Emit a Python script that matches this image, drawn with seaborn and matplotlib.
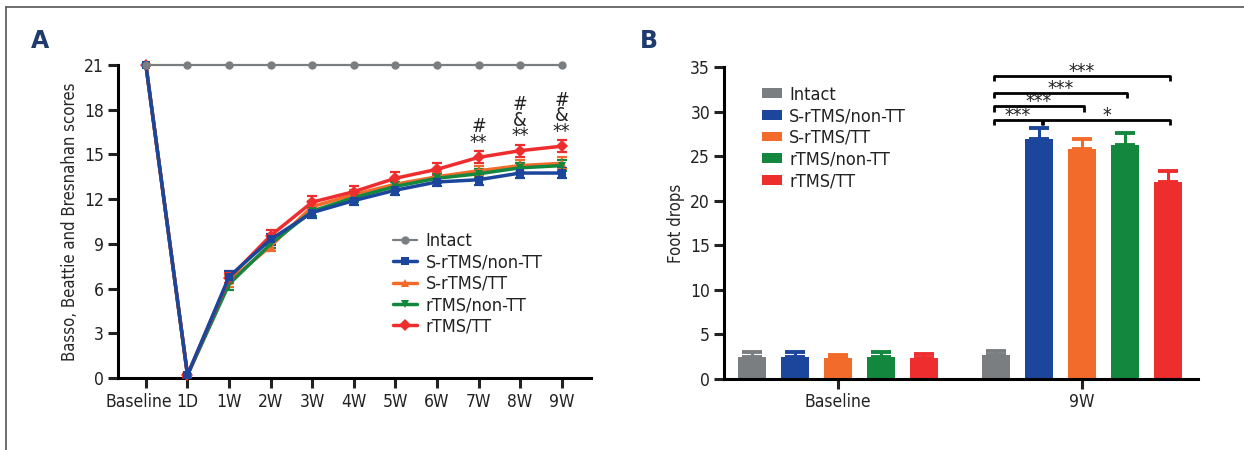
import numpy as np
import pandas as pd
import matplotlib
matplotlib.use("Agg")
import matplotlib.pyplot as plt
import matplotlib.transforms as mtransforms
import seaborn as sns
from matplotlib.lines import Line2D
from matplotlib import font_manager

# ---- data ----
timepoints = ["Baseline", "1D", "1W", "2W", "3W", "4W", "5W", "6W", "7W", "8W", "9W"]
groups = ["Intact", "S-rTMS/non-TT", "S-rTMS/TT", "rTMS/non-TT", "rTMS/TT"]
colors = ["#7b7e81", "#1b469c", "#f26b2a", "#14873f", "#ee2d2f"]
markers = ["o", "s", "^", "v", "D"]

# panel A: BBB scores (mean, SEM)
intact_bbb = [21, 21, 21, 21, 21, 21, 21, 21, 21, 21, 21]
srtms_nontt_bbb = [21, 0.2, 6.8, 9.3, 11.1, 11.9, 12.6, 13.15, 13.3, 13.75, 13.75]
srtms_tt_bbb = [21, 0.2, 6.5, 8.85, 11.5, 12.3, 13.0, 13.5, 13.9, 14.25, 14.4]
rtms_nontt_bbb = [21, 0.2, 6.3, 9.0, 11.2, 12.1, 12.85, 13.4, 13.7, 14.1, 14.25]
rtms_tt_bbb = [21, 0.2, 6.7, 9.55, 11.8, 12.5, 13.4, 14.0, 14.8, 15.25, 15.55]

intact_sem = [0, 0, 0, 0, 0, 0, 0, 0, 0, 0, 0]
srtms_nontt_sem = [0, 0.1, 0.4, 0.35, 0.35, 0.3, 0.3, 0.3, 0.35, 0.35, 0.35]
srtms_tt_sem = [0, 0.1, 0.4, 0.3, 0.35, 0.3, 0.35, 0.3, 0.35, 0.4, 0.4]
rtms_nontt_sem = [0, 0.1, 0.4, 0.3, 0.35, 0.3, 0.3, 0.3, 0.3, 0.35, 0.35]
rtms_tt_sem = [0, 0.1, 0.35, 0.35, 0.4, 0.4, 0.45, 0.4, 0.4, 0.4, 0.4]

sig_times = ["7W", "8W", "9W"]
sig_labels = ["#\n**", "#\n&\n**", "#\n&\n**"]

# panel B: foot drops (mean, SEM)
foot_times = ["Baseline", "9W"]
intact_foot = [2.5, 2.65]
srtms_nontt_foot = [2.5, 26.9]
srtms_tt_foot = [2.3, 25.8]
rtms_nontt_foot = [2.5, 26.25]
rtms_tt_foot = [2.4, 22.1]

intact_foot_sem = [0.5, 0.45]
srtms_nontt_foot_sem = [0.5, 1.3]
srtms_tt_foot_sem = [0.4, 1.1]
rtms_nontt_foot_sem = [0.5, 1.3]
rtms_tt_foot_sem = [0.4, 1.25]

comparisons = [("Intact", "S-rTMS/non-TT", "***"),
               ("Intact", "S-rTMS/TT", "***"),
               ("Intact", "rTMS/non-TT", "***"),
               ("Intact", "rTMS/TT", "***"),
               ("S-rTMS/non-TT", "rTMS/TT", "*")]
bracket_y = [29.05, 30.6, 32.1, 34.0, 29.05]

bbb_means = [intact_bbb, srtms_nontt_bbb, srtms_tt_bbb, rtms_nontt_bbb, rtms_tt_bbb]
bbb_sems = [intact_sem, srtms_nontt_sem, srtms_tt_sem, rtms_nontt_sem, rtms_tt_sem]
foot_means = [intact_foot, srtms_nontt_foot, srtms_tt_foot, rtms_nontt_foot, rtms_tt_foot]
foot_sems = [intact_foot_sem, srtms_nontt_foot_sem, srtms_tt_foot_sem,
             rtms_nontt_foot_sem, rtms_tt_foot_sem]

sns.set_style("white")

# use a condensed face when one is installed, otherwise shrink the text
fp = font_manager.FontProperties(family="DejaVu Sans", stretch="condensed")
cond_path = font_manager.findfont(fp, fallback_to_default=True)
condensed = "condensed" in cond_path.lower()
plt.rcParams['font.family'] = ['DejaVu Sans']
if condensed:
    plt.rcParams['font.stretch'] = 'condensed'
    fs_tick, fs_leg, fs_lab = 12.5, 13, 12
else:
    fs_tick, fs_leg, fs_lab = 10.5, 11.5, 11
plt.rcParams['text.color'] = '#222222'
plt.rcParams['xtick.color'] = '#222222'
plt.rcParams['ytick.color'] = '#222222'

fig = plt.figure(figsize=(12.44, 4.5), dpi=100)
ax_a = fig.add_axes([0.0949, 0.16, 0.380, 0.6956])
ax_b = fig.add_axes([0.582, 0.1578, 0.381, 0.6932])

# ---- panel A ----
x_idx = np.arange(len(timepoints))
df_a = pd.DataFrame({
    "t": np.tile(x_idx, len(groups)),
    "score": np.concatenate(bbb_means),
    "group": np.repeat(groups, len(timepoints)),
})
sns.lineplot(data=df_a, x="t", y="score", hue="group", style="group",
             hue_order=groups, style_order=groups, palette=colors,
             markers=markers, dashes=False, linewidth=2.5, markersize=6,
             markeredgewidth=0, errorbar=None, ax=ax_a, clip_on=False)

for i, line in enumerate(ax_a.lines[:len(groups)]):
    if i == 0:
        line.set_linewidth(1.6)
        line.set_zorder(6)
    elif i == 1:
        line.set_zorder(5)
    else:
        line.set_zorder(4)
    line.set_clip_on(False)

for i in range(1, len(groups)):
    ax_a.errorbar(x_idx, bbb_means[i], yerr=bbb_sems[i], fmt="none",
                  ecolor=colors[i], elinewidth=1.6, capsize=3.5, capthick=1.6,
                  zorder=3)

rtms_tt_series = pd.Series(rtms_tt_bbb, index=timepoints)
rtms_tt_err = pd.Series(rtms_tt_sem, index=timepoints)
for t, lab in zip(sig_times, sig_labels):
    xi = timepoints.index(t)
    ax_a.text(xi, rtms_tt_series[t] + rtms_tt_err[t] - 0.05, lab, ha="center",
              va="bottom", fontsize=14, linespacing=0.78)

ax_a.set_xlim(-0.67, 10.7)
ax_a.set_ylim(0, 21)
ax_a.set_yticks(np.arange(0, 22, 3))
ax_a.set_xticks(x_idx)
ax_a.set_xticklabels(timepoints)
ax_a.set_xlabel("")
ax_a.set_ylabel("Basso, Beattie and Bresnahan scores", fontsize=fs_lab)

sns.move_legend(ax_a, "upper left", bbox_to_anchor=(0.582, 0.465), frameon=False,
                title=None, fontsize=fs_leg, handlelength=1.3, handletextpad=0.5,
                labelspacing=0.18, borderaxespad=0, borderpad=0)
for i, h in enumerate(ax_a.get_legend().legend_handles):
    h.set_linewidth(1.6 if i == 0 else 2.5)

# ---- panel B ----
df_b = pd.DataFrame({
    "time": np.tile(foot_times, len(groups)),
    "drops": np.concatenate(foot_means),
    "group": np.repeat(groups, len(foot_times)),
})
sns.barplot(data=df_b, x="time", y="drops", hue="group", hue_order=groups,
            palette=colors, width=0.88, gap=0.35, errorbar=None,
            linewidth=0, saturation=1, ax=ax_b)

centers = {}
for g, cont, err, col in zip(groups, ax_b.containers, foot_sems, colors):
    xs = [p.get_x() + p.get_width() / 2 for p in cont.patches]
    hs = [p.get_height() for p in cont.patches]
    centers[g] = xs
    ax_b.errorbar(xs, hs, yerr=[np.zeros(len(err)), err], fmt="none",
                  ecolor=col, elinewidth=2.2, capsize=7, capthick=2.8, zorder=1)

tip = 0.6
for (g1, g2, lab), yb in zip(comparisons, bracket_y):
    x1 = centers[g1][1] - 0.01
    x2 = centers[g2][1] + 0.01
    if g1 != "Intact":
        x1 += 0.025
    ax_b.plot([x1, x1, x2, x2], [yb - tip, yb, yb, yb - tip], color="black",
              lw=2.0, solid_joinstyle="round", solid_capstyle="butt",
              clip_on=False)
    ax_b.text((x1 + x2) / 2, yb - 0.1, lab, ha="center", va="baseline",
              fontsize=14, clip_on=False)

ax_b.set_xlim(-0.467, 1.475)
ax_b.set_ylim(0, 35)
ax_b.set_yticks(np.arange(0, 36, 5))
ax_b.set_xlabel("")
ax_b.set_ylabel("Foot drops", fontsize=fs_lab)

sns.move_legend(ax_b, "upper left", bbox_to_anchor=(0.08, 0.94), frameon=False,
                title=None, fontsize=fs_leg, handlelength=1.1, handleheight=0.45,
                handletextpad=0.4, labelspacing=0.2, borderaxespad=0,
                borderpad=0)

for ax in (ax_a, ax_b):
    sns.despine(ax=ax)
    for s in ("left", "bottom"):
        ax.spines[s].set_linewidth(2.2)
        ax.spines[s].set_color("black")
    ax.tick_params(axis="both", direction="out", length=7, width=2.2,
                   labelsize=fs_tick, pad=3, left=True, bottom=True)
ax_a.tick_params(axis="x", pad=4)

# nudge the long "Baseline" label left so it clears "1D"
first_lab = ax_a.get_xticklabels()[0]
first_lab.set_transform(first_lab.get_transform() +
                        mtransforms.ScaledTranslation(-7 / 100, 0, fig.dpi_scale_trans))

# panel letters and partial frame
fig.text(0.032, 0.91, "A", fontsize=17, fontweight="bold", color="#1f3b6e",
         ha="center", va="center", fontstretch="normal")
fig.text(0.522, 0.909, "B", fontsize=17, fontweight="bold", color="#1f3b6e",
         ha="center", va="center", fontstretch="normal")
fig.add_artist(Line2D([0.005, 1.0], [0.984, 0.984], color="#555555", lw=1.2,
                      transform=fig.transFigure))
fig.add_artist(Line2D([0.005, 0.005], [0.0, 0.984], color="#555555", lw=1.2,
                      transform=fig.transFigure))

fig.savefig("out.png", dpi=100)
